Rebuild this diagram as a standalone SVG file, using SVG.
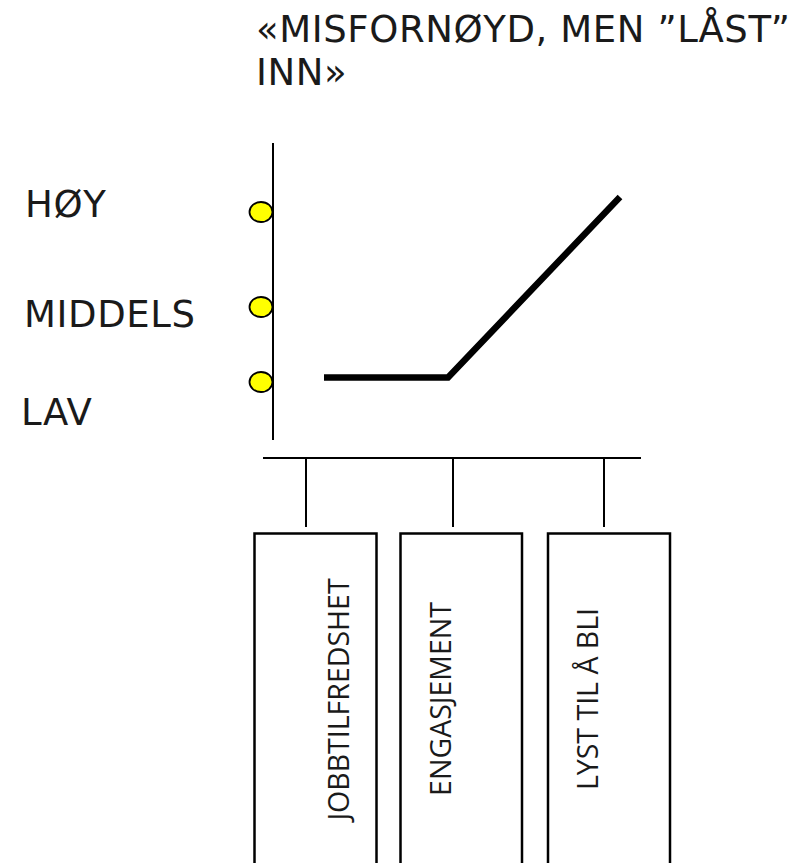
<svg xmlns="http://www.w3.org/2000/svg" width="802" height="863" viewBox="0 0 802 863">
  <style>
    .lbl { font-family: "DejaVu Sans", Verdana, sans-serif; font-size: 37px; letter-spacing: 0.6px; fill: #1a1a1a; }
    .box { fill: #ffffff; stroke: #000000; stroke-width: 2.5; }
    .boxtxt { font-family: "Open Sans", "Liberation Sans", sans-serif; font-size: 28.5px; fill: #1a1a1a; text-anchor: middle; }
    .dot { fill: #ffff00; stroke: #000000; stroke-width: 1.8; }
    .wire { stroke: #000000; stroke-width: 2; fill: none; }
  </style>
  <rect width="802" height="863" fill="#ffffff"/>

  <!-- heading -->
  <g id="title">
    <text class="lbl" x="256" y="42">«MISFORNØYD, MEN ”LÅST”</text>
    <text class="lbl" x="256" y="85">INN»</text>
  </g>

  <!-- level labels -->
  <g id="level-high"><text class="lbl" x="25" y="217">HØY</text></g>
  <g id="level-mid"><text class="lbl" x="24" y="327">MIDDELS</text></g>
  <g id="level-low"><text class="lbl" x="21" y="425">LAV</text></g>

  <!-- axis with level markers -->
  <g id="axis">
    <line class="wire" x1="273" y1="143" x2="273" y2="440"/>
    <ellipse class="dot" cx="261" cy="212" rx="11.5" ry="10"/>
    <ellipse class="dot" cx="261" cy="307" rx="11.5" ry="10"/>
    <ellipse class="dot" cx="261" cy="382" rx="11.5" ry="10"/>
  </g>

  <!-- trend line -->
  <g id="trend">
    <polyline points="324,377.5 448,377.5 620,197" fill="none" stroke="#000000" stroke-width="6.5" stroke-linejoin="miter"/>
  </g>

  <!-- connectors -->
  <g id="connectors">
    <line class="wire" x1="263" y1="458" x2="641" y2="458"/>
    <line class="wire" x1="306" y1="458" x2="306" y2="527"/>
    <line class="wire" x1="453" y1="458" x2="453" y2="527"/>
    <line class="wire" x1="604" y1="458" x2="604" y2="527"/>
  </g>

  <!-- factor boxes -->
  <g id="box-jobbtilfredshet">
    <rect class="box" x="254.5" y="533.5" width="122" height="340"/>
    <text class="boxtxt" transform="translate(349,699.5) rotate(-90)">JOBBTILFREDSHET</text>
  </g>
  <g id="box-engasjement">
    <rect class="box" x="400.5" y="533.5" width="121.5" height="340"/>
    <text class="boxtxt" transform="translate(451,699) rotate(-90)">ENGASJEMENT</text>
  </g>
  <g id="box-lyst">
    <rect class="box" x="548" y="533.5" width="122" height="340"/>
    <text class="boxtxt" transform="translate(598,699) rotate(-90)">LYST TIL Å BLI</text>
  </g>
</svg>
